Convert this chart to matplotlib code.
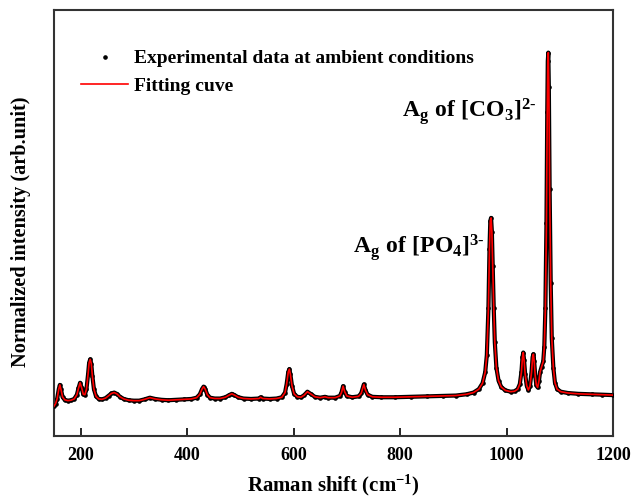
import numpy as np
import matplotlib.pyplot as plt
from matplotlib.lines import Line2D

# Raman spectrum at ambient conditions (normalised intensity)
raman_shift = [150, 153, 156, 159, 161, 163, 166, 170, 176, 182, 188, 193, 196, 199, 202, 205,
               208, 211, 214, 216, 218, 220, 222, 225, 229, 234, 240, 247, 253, 258, 263, 268,
               274, 281, 290, 300, 310, 320, 330, 340, 352, 365, 380, 395, 408, 418, 424, 428,
               431, 434, 438, 443, 452, 462, 472, 479, 484, 489, 496, 506, 520, 535, 538, 542,
               555, 568, 578, 584, 587, 590, 592, 594, 597, 601, 607, 614, 620, 626, 632, 640,
               650, 659, 665, 678, 687, 690, 693, 696, 700, 710, 722, 727, 730, 732, 735, 739,
               748, 765, 790, 820, 850, 880, 905, 925, 938, 948, 955, 960, 963, 966, 968, 969.5,
               971, 972.5, 974, 976, 978, 981, 985, 990, 998, 1008, 1015, 1021, 1025, 1028, 1030,
               1031.5, 1033, 1035, 1038, 1041, 1044, 1047, 1049, 1050.5, 1052, 1054, 1056, 1058.5,
               1061, 1063, 1066, 1069, 1071, 1073, 1075, 1076.5, 1077.5, 1078.5, 1079.5, 1081,
               1083, 1085, 1088, 1091, 1095, 1102, 1115, 1135, 1160, 1180, 1200]
intensity = [0.070, 0.076, 0.088, 0.110, 0.120, 0.110, 0.092, 0.085, 0.083, 0.084, 0.087, 0.097,
             0.112, 0.125, 0.113, 0.098, 0.097, 0.110, 0.145, 0.172, 0.180, 0.170, 0.142, 0.110,
             0.093, 0.087, 0.086, 0.089, 0.095, 0.100, 0.102, 0.099, 0.092, 0.087, 0.084, 0.083,
             0.083, 0.086, 0.090, 0.087, 0.085, 0.084, 0.085, 0.086, 0.087, 0.090, 0.098, 0.110,
             0.116, 0.110, 0.097, 0.090, 0.088, 0.088, 0.091, 0.096, 0.099, 0.096, 0.091, 0.088,
             0.087, 0.088, 0.091, 0.088, 0.087, 0.088, 0.091, 0.102, 0.122, 0.150, 0.157, 0.145,
             0.118, 0.099, 0.092, 0.091, 0.096, 0.104, 0.099, 0.092, 0.090, 0.092, 0.090, 0.090,
             0.094, 0.102, 0.117, 0.104, 0.094, 0.091, 0.093, 0.100, 0.113, 0.121, 0.108, 0.097,
             0.092, 0.091, 0.091, 0.092, 0.093, 0.094, 0.095, 0.098, 0.102, 0.110, 0.124, 0.150,
             0.190, 0.300, 0.440, 0.505, 0.512, 0.480, 0.400, 0.300, 0.220, 0.160, 0.130, 0.115,
             0.107, 0.104, 0.105, 0.110, 0.122, 0.150, 0.185, 0.196, 0.178, 0.145, 0.118, 0.108,
             0.117, 0.150, 0.185, 0.192, 0.175, 0.140, 0.120, 0.114, 0.130, 0.150, 0.163, 0.175,
             0.210, 0.300, 0.500, 0.760, 0.880, 0.900, 0.820, 0.580, 0.360, 0.230, 0.160, 0.125,
             0.110, 0.104, 0.101, 0.099, 0.098, 0.097, 0.096]

xticks = [200, 400, 600, 800, 1000, 1200]

plt.rcParams['font.family'] = 'Liberation Serif'
plt.rcParams['font.weight'] = 'bold'
plt.rcParams['mathtext.fontset'] = 'custom'
plt.rcParams['mathtext.rm'] = 'Liberation Serif:bold'
plt.rcParams['mathtext.it'] = 'Liberation Serif:bold'
plt.rcParams['mathtext.bf'] = 'Liberation Serif:bold'

fig = plt.figure(figsize=(6.33, 4.97), dpi=100)
ax = fig.add_axes([0.0853, 0.1227, 0.8831, 0.8572])

x = np.array(raman_shift)
y = np.array(intensity)

# thick band of the measured points, then the dots, then the fit on top
ax.plot(x, y, color='black', lw=3.0, solid_joinstyle='round', zorder=2)
ax.plot(x, y, 'o', color='black', ms=2.3, zorder=3)
ax.plot(x, y, color='red', lw=1.2, zorder=4)

ax.set_xlim(150, 1200)
ax.set_ylim(0, 1.0)
ax.set_xticks(xticks)
ax.set_yticks([])
ax.tick_params(axis='x', direction='in', length=6, width=1.2, labelsize=13, pad=8)
for s in ax.spines.values():
    s.set_linewidth(1.5)
    s.set_color('#333333')

ax.set_xlabel(r'Raman shift (cm$^{-1}$)', fontsize=15, fontweight='bold', labelpad=6)
ax.set_ylabel('Normalized intensity (arb.unit)', fontsize=14.6, fontweight='bold')
ax.yaxis.set_label_coords(-0.041, 0.48)

# peak assignments
ax.text(803, 0.749, r'$\mathrm{A_g\ of\ [CO_3]^{2\text{-}}}$', fontsize=17, va='baseline')
ax.text(711, 0.43, r'$\mathrm{A_g\ of\ [PO_4]^{3\text{-}}}$', fontsize=17, va='baseline')

handles = [Line2D([], [], ls='none', marker='o', color='black', ms=2.3),
           Line2D([], [], color='red', lw=1.2)]
ax.legend(handles, ['Experimental data at ambient conditions', 'Fitting cuve'],
          loc='upper left', bbox_to_anchor=(0.035, 0.925), frameon=False,
          fontsize=14, handlelength=2.4, handletextpad=0.3, labelspacing=0.5,
          borderaxespad=0)

fig.savefig('out.png', dpi=100)
